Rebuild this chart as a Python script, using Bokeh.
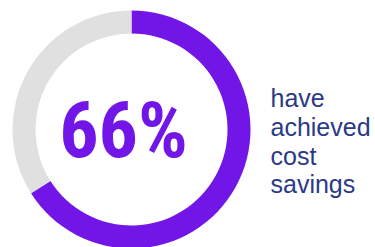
import math
from bokeh.plotting import figure
from bokeh.models import Range1d, ColumnDataSource
from bokeh.core.properties import value
from bokeh.embed import file_html
from bokeh.resources import INLINE

# Data
labels = ["achieved", "not achieved"]
values = [66, 34]
colors = ["#7216e8", "#e0e0e0"]
center_label = "66%"
side_lines = ["have", "achieved", "cost", "savings"]

W, H = 375, 247
p = figure(width=W, height=H, output_backend="svg", toolbar_location=None,
           x_range=Range1d(0, W), y_range=Range1d(0, H), min_border=0)
p.axis.visible = False
p.grid.visible = False
p.outline_line_color = None
p.background_fill_color = None
p.border_fill_color = None

def sx(x):
    return x
def sy(y):
    return H - y

total = sum(values)
starts, ends = [], []
a = math.pi / 2
for v in values:
    starts.append(a)
    a = a - 2 * math.pi * v / total
    ends.append(a)

src = ColumnDataSource(dict(start=starts, end=ends, color=colors, label=labels))
p.annular_wedge(x=sx(131), y=sy(129), inner_radius=96, outer_radius=119,
                start_angle="start", end_angle="end", direction="clock",
                fill_color="color", line_color=None, source=src)

p.text(x=[sx(123)], y=[sy(130)], text=[center_label], text_align="center",
       text_baseline="middle", text_color="#7216e8",
       text_font=value("Roboto Condensed, Liberation Sans Narrow, Roboto, sans-serif"),
       text_font_style="bold", text_font_size="78px")

mids = [97, 126, 155, 183]
p.text(x=[sx(270)] * 4, y=[sy(b) for b in mids], text=side_lines,
       text_align="left", text_baseline="middle", text_color="#2b3a86",
       text_font=value("Liberation Sans"), text_font_size="25px")

open("out.html", "w").write(file_html(p, INLINE))
